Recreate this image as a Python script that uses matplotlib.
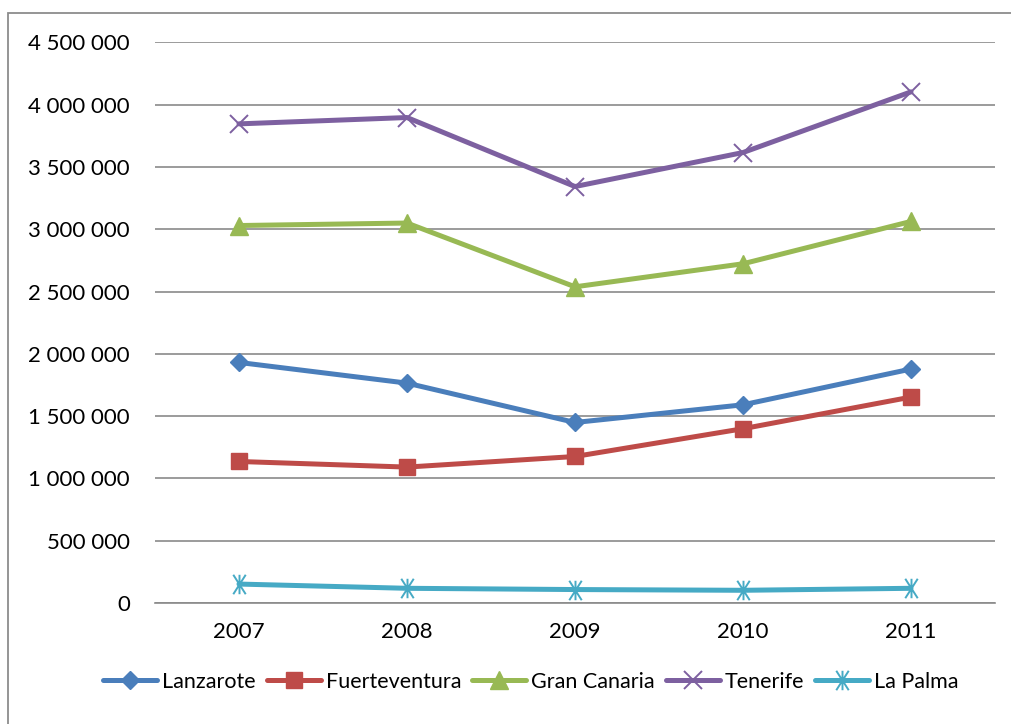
import matplotlib
matplotlib.use("Agg")
import matplotlib.pyplot as plt
from matplotlib.path import Path
from matplotlib.markers import MarkerStyle
from matplotlib.patches import Rectangle
from matplotlib.ticker import FuncFormatter, MultipleLocator

plt.rcParams['font.family'] = ['Lato', 'DejaVu Sans']

# Visitors per island and year
years = ['2007', '2008', '2009', '2010', '2011']
lanzarote = [1931000, 1765000, 1449000, 1591000, 1878000]
fuerteventura = [1136000, 1091000, 1176000, 1399000, 1653000]
gran_canaria = [3030000, 3050000, 2538000, 2723000, 3063000]
tenerife = [3846000, 3897000, 3343000, 3616000, 4103000]
la_palma = [152000, 118000, 108000, 102000, 118000]

series_names = ['Lanzarote', 'Fuerteventura', 'Gran Canaria', 'Tenerife', 'La Palma']

# Asterisk marker: an x with a vertical stroke through the middle
star_path = Path(
    [(-0.32, -0.5), (0.32, 0.5), (-0.32, 0.5), (0.32, -0.5), (0, -0.5), (0, 0.5)],
    [Path.MOVETO, Path.LINETO, Path.MOVETO, Path.LINETO, Path.MOVETO, Path.LINETO],
)

styles = [
    dict(color='#4A7EBB', marker='D', ms=9.5, mfc='#4A7EBB', mec='#4A7EBB'),
    dict(color='#BE4B48', marker='s', ms=12, mfc='#BE4B48', mec='#BE4B48'),
    dict(color='#98B954', marker='^', ms=13, mfc='#98B954', mec='#98B954'),
    dict(color='#7D60A0', marker='x', ms=13, mew=1.4),
    dict(color='#46AAC5', marker=MarkerStyle(star_path), ms=14, mew=1.4, mfc='none'),
]

fig = plt.figure(figsize=(10.11, 7.24), dpi=100)
ax = fig.add_axes([155 / 1011, 121 / 724, 840 / 1011, 560.6 / 724])

x = list(range(len(years)))
for name, values, st in zip(series_names,
                            [lanzarote, fuerteventura, gran_canaria, tenerife, la_palma],
                            styles):
    ax.plot(x, values, lw=3.6, label=name, solid_joinstyle='round',
            solid_capstyle='round', **st)

ax.set_xlim(-0.5, len(years) - 0.5)
ax.set_ylim(0, 4500000)
ax.yaxis.set_major_locator(MultipleLocator(500000))
ax.yaxis.set_major_formatter(
    FuncFormatter(lambda v, _: f"{int(round(v)):,}".replace(',', ' ')))
ax.set_xticks(x)
ax.set_xticklabels(years)

ax.grid(axis='y', color='#8A8A8A', lw=1.2)
ax.set_axisbelow(True)
for side in ('left', 'right', 'top'):
    ax.spines[side].set_visible(False)
ax.spines['bottom'].set_color('#8A8A8A')
ax.spines['bottom'].set_linewidth(1.2)
ax.tick_params(axis='y', length=0, pad=18, labelsize=16)
ax.tick_params(axis='x', length=0, pad=14, labelsize=16)

leg = fig.legend(loc='center', bbox_to_anchor=(531 / 1011, 1 - 682 / 724),
                 ncol=5, frameon=False, fontsize=15.5, handlelength=2.5,
                 handletextpad=0.25, columnspacing=0.5, borderpad=0)

# Chart area frame
fig.patches.append(Rectangle((8 / 1011, -0.1), 1.2, 1.1 - 13 / 724 + 0.0,
                             transform=fig.transFigure, fill=False,
                             edgecolor='#8C8C8C', lw=1.3))

fig.savefig('out.png', dpi=100)
